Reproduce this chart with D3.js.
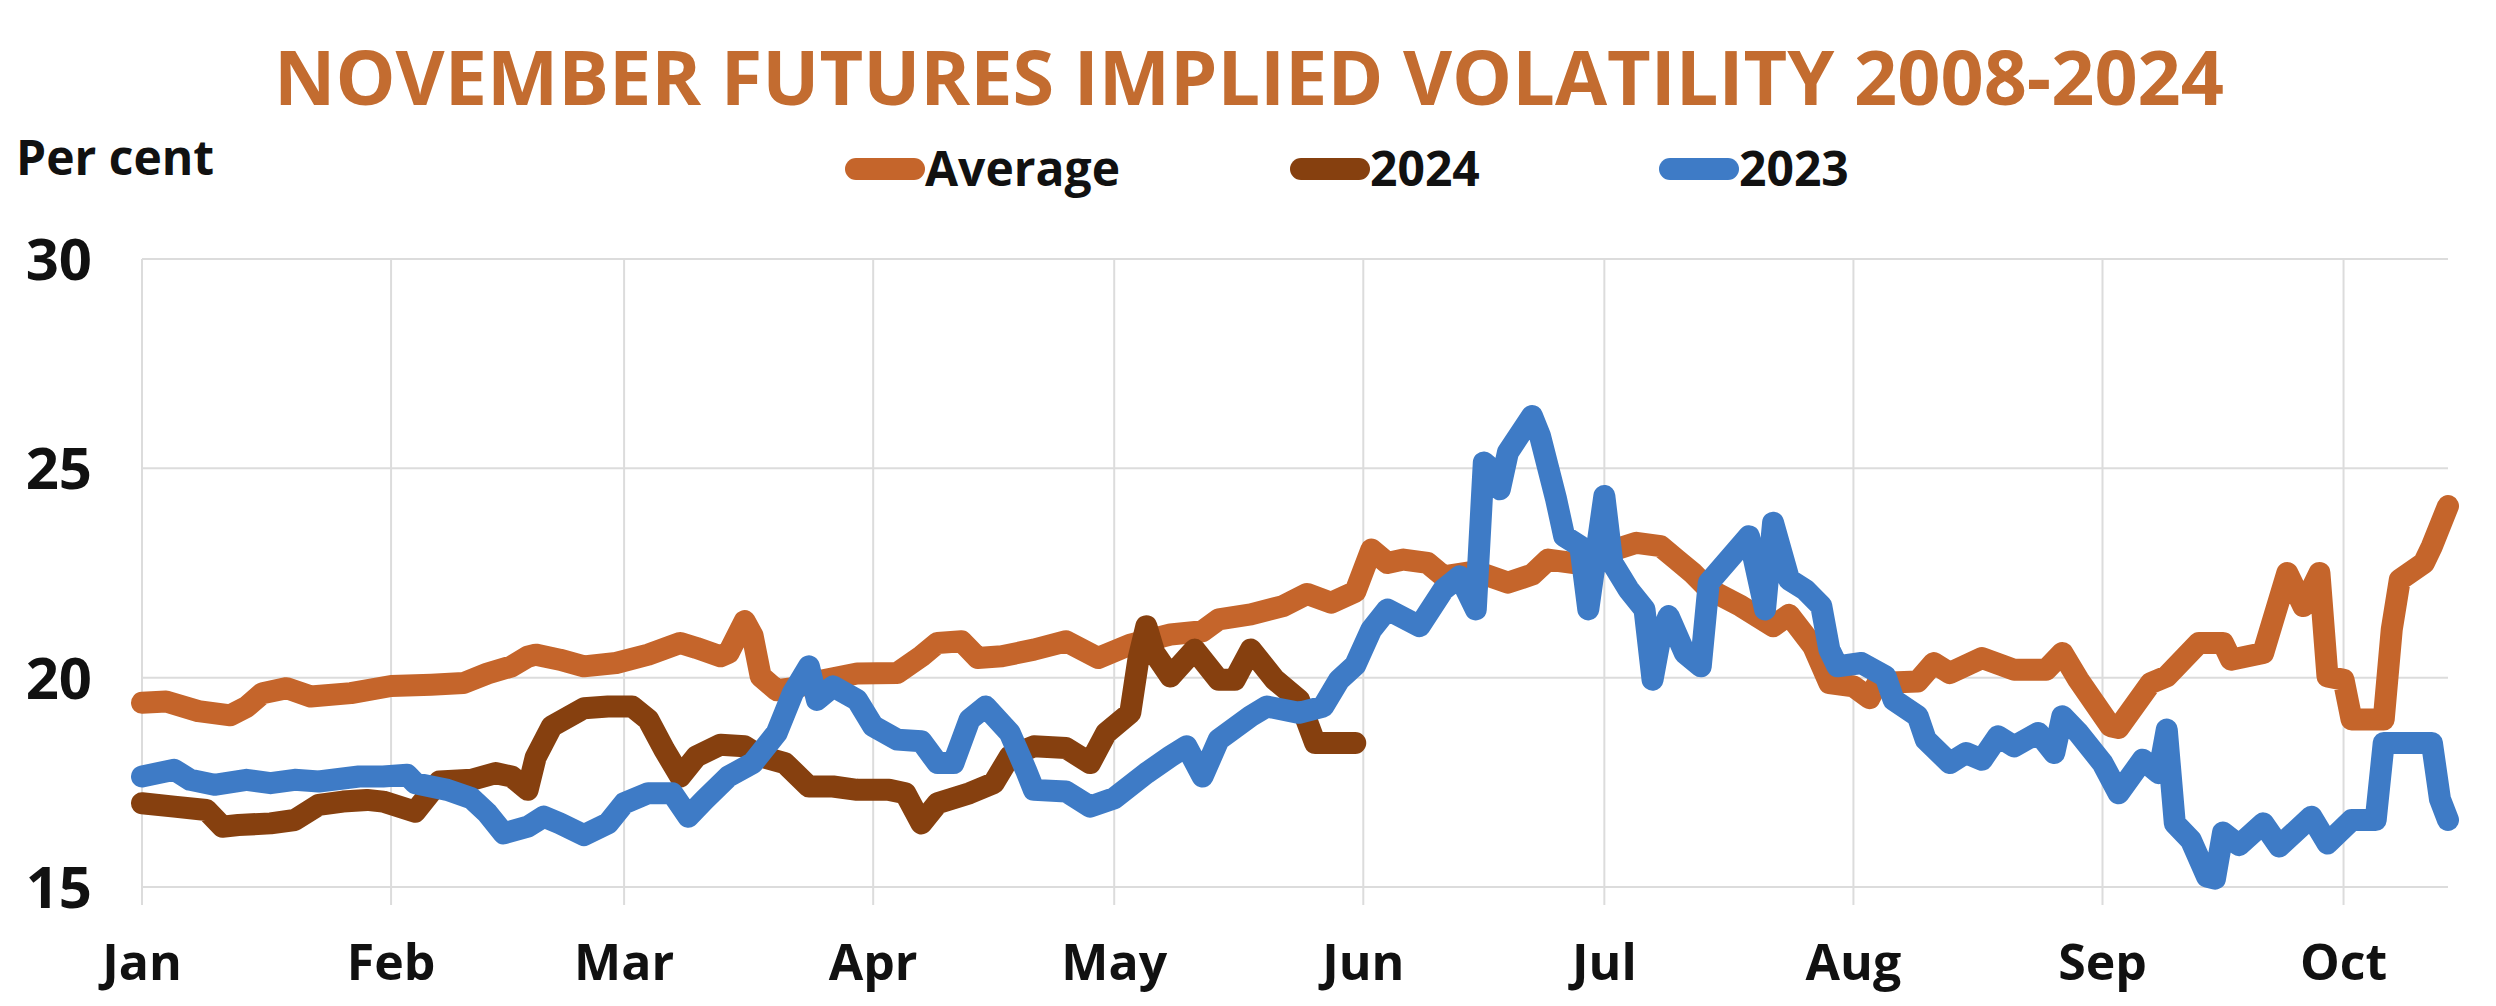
<!DOCTYPE html>
<html lang="en">
<head>
  <meta charset="UTF-8">
  <title>November futures implied volatility</title>
  <style>
    body { margin: 0; background: #fff; }
    text { font-family: "Open Sans", sans-serif; font-weight: 700; }
  </style>
</head>
<body>
  <svg id="svg" width="2496" height="1006"></svg>
  <script src="https://d3js.org/d3.v7.min.js"></script>
  <script>
    // values, [date, per cent]
    const average = [
      ['2024-01-01', 19.4], ['2024-01-04', 19.43], ['2024-01-08', 19.2], ['2024-01-12', 19.1],
      ['2024-01-14', 19.3], ['2024-01-16', 19.63], ['2024-01-19', 19.75], ['2024-01-22', 19.55],
      ['2024-01-27', 19.63], ['2024-02-01', 19.8], ['2024-02-06', 19.83], ['2024-02-10', 19.87],
      ['2024-02-13', 20.1], ['2024-02-16', 20.27], ['2024-02-18', 20.5], ['2024-02-19', 20.55],
      ['2024-02-22', 20.43], ['2024-02-25', 20.27], ['2024-02-29', 20.35], ['2024-03-04', 20.55],
      ['2024-03-08', 20.83], ['2024-03-10', 20.71], ['2024-03-13', 20.51], ['2024-03-14', 20.59],
      ['2024-03-16', 21.35], ['2024-03-17', 21.0], ['2024-03-18', 20.03], ['2024-03-20', 19.7],
      ['2024-03-22', 19.75], ['2024-03-25', 19.91], ['2024-03-30', 20.1], ['2024-04-04', 20.11],
      ['2024-04-07', 20.51], ['2024-04-09', 20.83], ['2024-04-12', 20.87], ['2024-04-14', 20.47],
      ['2024-04-17', 20.51], ['2024-04-21', 20.67], ['2024-04-25', 20.87], ['2024-04-29', 20.47],
      ['2024-05-03', 20.79], ['2024-05-08', 21.03], ['2024-05-12', 21.11], ['2024-05-14', 21.39],
      ['2024-05-18', 21.51], ['2024-05-22', 21.71], ['2024-05-25', 22.0], ['2024-05-28', 21.79],
      ['2024-05-31', 22.05], ['2024-06-02', 23.06], ['2024-06-04', 22.74], ['2024-06-06', 22.82],
      ['2024-06-09', 22.74], ['2024-06-11', 22.42], ['2024-06-15', 22.54], ['2024-06-19', 22.27],
      ['2024-06-22', 22.46], ['2024-06-24', 22.82], ['2024-06-27', 22.74], ['2024-07-01', 22.98],
      ['2024-07-05', 23.22], ['2024-07-08', 23.14], ['2024-07-10', 22.82], ['2024-07-12', 22.5],
      ['2024-07-14', 22.11], ['2024-07-18', 21.71], ['2024-07-22', 21.23], ['2024-07-24', 21.5],
      ['2024-07-27', 20.75], ['2024-07-29', 19.87], ['2024-08-01', 19.79], ['2024-08-03', 19.51],
      ['2024-08-04', 19.87], ['2024-08-09', 19.91], ['2024-08-11', 20.35], ['2024-08-13', 20.11],
      ['2024-08-17', 20.47], ['2024-08-21', 20.19], ['2024-08-25', 20.19], ['2024-08-27', 20.59],
      ['2024-08-29', 19.95], ['2024-09-02', 18.84], ['2024-09-03', 18.8], ['2024-09-07', 19.87],
      ['2024-09-09', 20.03], ['2024-09-13', 20.83], ['2024-09-16', 20.83], ['2024-09-17', 20.43],
      ['2024-09-21', 20.59], ['2024-09-24', 22.5], ['2024-09-26', 21.71], ['2024-09-28', 22.5],
      ['2024-09-29', 20.03], ['2024-10-01', 19.95], ['2024-10-02', 19.0], ['2024-10-06', 19.0],
      ['2024-10-07', 21.15], ['2024-10-08', 22.34], ['2024-10-11', 22.74], ['2024-10-12', 23.14],
      ['2024-10-14', 24.1]
    ]

    const year2024 = [
      ['2024-01-01', 17.0], ['2024-01-05', 16.92], ['2024-01-09', 16.84], ['2024-01-11', 16.44],
      ['2024-01-13', 16.48], ['2024-01-17', 16.52], ['2024-01-20', 16.6], ['2024-01-23', 16.96],
      ['2024-01-26', 17.04], ['2024-01-29', 17.08], ['2024-01-31', 17.04], ['2024-02-04', 16.8],
      ['2024-02-07', 17.52], ['2024-02-11', 17.56], ['2024-02-14', 17.72], ['2024-02-16', 17.64],
      ['2024-02-18', 17.32], ['2024-02-19', 18.1], ['2024-02-21', 18.84], ['2024-02-25', 19.27],
      ['2024-02-28', 19.31], ['2024-03-02', 19.31], ['2024-03-04', 19.0], ['2024-03-06', 18.28],
      ['2024-03-08', 17.64], ['2024-03-10', 18.12], ['2024-03-13', 18.4], ['2024-03-16', 18.36],
      ['2024-03-18', 18.12], ['2024-03-21', 17.96], ['2024-03-24', 17.4], ['2024-03-27', 17.4],
      ['2024-03-30', 17.32], ['2024-04-03', 17.32], ['2024-04-05', 17.24], ['2024-04-07', 16.52],
      ['2024-04-09', 17.0], ['2024-04-13', 17.24], ['2024-04-16', 17.48], ['2024-04-18', 18.12],
      ['2024-04-21', 18.36], ['2024-04-25', 18.32], ['2024-04-28', 17.96], ['2024-04-30', 18.68],
      ['2024-05-03', 19.16], ['2024-05-04', 20.43], ['2024-05-05', 21.23], ['2024-05-06', 20.59],
      ['2024-05-08', 20.03], ['2024-05-11', 20.67], ['2024-05-14', 19.95], ['2024-05-16', 19.95],
      ['2024-05-18', 20.67], ['2024-05-21', 19.95], ['2024-05-24', 19.47], ['2024-05-26', 18.44],
      ['2024-05-31', 18.44]
    ]

    const year2023 = [
      ['2024-01-01', 17.64], ['2024-01-05', 17.8], ['2024-01-07', 17.56], ['2024-01-10', 17.44],
      ['2024-01-14', 17.56], ['2024-01-17', 17.48], ['2024-01-20', 17.56], ['2024-01-23', 17.52],
      ['2024-01-28', 17.64], ['2024-01-31', 17.64], ['2024-02-03', 17.68], ['2024-02-04', 17.48],
      ['2024-02-08', 17.32], ['2024-02-11', 17.12], ['2024-02-13', 16.76], ['2024-02-15', 16.28],
      ['2024-02-18', 16.44], ['2024-02-20', 16.68], ['2024-02-22', 16.52], ['2024-02-25', 16.24],
      ['2024-02-28', 16.52], ['2024-03-01', 17.0], ['2024-03-04', 17.24], ['2024-03-07', 17.24],
      ['2024-03-09', 16.68], ['2024-03-11', 17.08], ['2024-03-14', 17.64], ['2024-03-17', 17.96],
      ['2024-03-20', 18.68], ['2024-03-22', 19.63], ['2024-03-24', 20.27], ['2024-03-25', 19.47],
      ['2024-03-27', 19.79], ['2024-03-30', 19.47], ['2024-04-01', 18.84], ['2024-04-04', 18.52],
      ['2024-04-07', 18.48], ['2024-04-09', 17.96], ['2024-04-11', 17.96], ['2024-04-13', 19.0],
      ['2024-04-15', 19.31], ['2024-04-18', 18.68], ['2024-04-20', 17.8], ['2024-04-21', 17.32],
      ['2024-04-25', 17.28], ['2024-04-28', 16.92], ['2024-05-01', 17.12], ['2024-05-05', 17.72],
      ['2024-05-08', 18.12], ['2024-05-10', 18.36], ['2024-05-12', 17.64], ['2024-05-14', 18.52],
      ['2024-05-18', 19.08], ['2024-05-20', 19.31], ['2024-05-24', 19.16], ['2024-05-27', 19.31],
      ['2024-05-29', 19.95], ['2024-05-31', 20.3], ['2024-06-02', 21.15], ['2024-06-04', 21.63],
      ['2024-06-08', 21.23], ['2024-06-11', 22.11], ['2024-06-13', 22.42], ['2024-06-15', 21.63],
      ['2024-06-16', 25.14], ['2024-06-17', 24.98], ['2024-06-18', 24.5], ['2024-06-19', 25.38],
      ['2024-06-22', 26.25], ['2024-06-23', 25.77], ['2024-06-25', 24.26], ['2024-06-26', 23.38],
      ['2024-06-28', 23.14], ['2024-06-29', 21.63], ['2024-07-01', 24.34], ['2024-07-02', 22.74],
      ['2024-07-04', 22.11], ['2024-07-06', 21.63], ['2024-07-07', 19.95], ['2024-07-08', 20.99],
      ['2024-07-09', 21.47], ['2024-07-11', 20.59], ['2024-07-13', 20.27], ['2024-07-14', 22.27],
      ['2024-07-19', 23.38], ['2024-07-21', 21.63], ['2024-07-22', 23.7], ['2024-07-24', 22.34],
      ['2024-07-26', 22.1], ['2024-07-28', 21.71], ['2024-07-29', 20.67], ['2024-07-30', 20.27],
      ['2024-08-02', 20.35], ['2024-08-05', 20.03], ['2024-08-06', 19.47], ['2024-08-09', 19.08],
      ['2024-08-10', 18.52], ['2024-08-13', 17.96], ['2024-08-15', 18.2], ['2024-08-17', 18.04],
      ['2024-08-19', 18.6], ['2024-08-21', 18.36], ['2024-08-24', 18.68], ['2024-08-26', 18.2],
      ['2024-08-27', 19.08], ['2024-08-29', 18.68], ['2024-09-01', 17.96], ['2024-09-03', 17.24],
      ['2024-09-06', 18.04], ['2024-09-08', 17.72], ['2024-09-09', 18.76], ['2024-09-10', 16.52],
      ['2024-09-12', 16.12], ['2024-09-14', 15.25], ['2024-09-15', 15.2], ['2024-09-16', 16.3],
      ['2024-09-18', 16.0], ['2024-09-21', 16.52], ['2024-09-23', 15.97], ['2024-09-27', 16.68],
      ['2024-09-29', 16.04], ['2024-10-02', 16.6], ['2024-10-05', 16.6], ['2024-10-06', 18.44],
      ['2024-10-08', 18.44], ['2024-10-12', 18.44], ['2024-10-13', 17.1], ['2024-10-14', 16.6]
    ]

    const seriesNames = ['Average', '2024', '2023']
    const seriesColors = ['#C5652B', '#86400F', '#3E7BC6']
    const yTicks = [15, 20, 25, 30]
    const monthLabels = ['Jan', 'Feb', 'Mar', 'Apr', 'May', 'Jun', 'Jul', 'Aug', 'Sep', 'Oct']
    const titleText = 'NOVEMBER FUTURES IMPLIED VOLATILITY 2008-2024'

    const parse = d3.timeParse('%Y-%m-%d')
    const allSeries = [average, year2024, year2023].map(s => s.map(d => ({ date: parse(d[0]), value: d[1] })))

    const plotLeft = 142, plotRight = 2448, plotTop = 259, plotBottom = 887

    const xScale = d3.scaleTime()
      .domain([parse('2024-01-01'), parse('2024-10-14')])
      .range([plotLeft, plotRight])

    const yScale = d3.scaleLinear()
      .domain([15, 30])
      .range([plotBottom, plotTop])

    const svg = d3.select('#svg')

    svg.append('rect').attr('width', 2496).attr('height', 1006).attr('fill', '#fff')

    // grid
    svg.append('g')
      .selectAll('line')
      .data(yTicks)
      .enter()
      .append('line')
      .attr('x1', plotLeft).attr('x2', plotRight)
      .attr('y1', d => yScale(d)).attr('y2', d => yScale(d))
      .attr('stroke', '#dcdcdc').attr('stroke-width', 2)

    const monthStarts = d3.timeMonth.range(parse('2024-01-01'), parse('2024-10-15'))

    svg.append('g')
      .selectAll('line')
      .data(monthStarts)
      .enter()
      .append('line')
      .attr('x1', d => xScale(d)).attr('x2', d => xScale(d))
      .attr('y1', plotTop).attr('y2', plotBottom + 18)
      .attr('stroke', '#dcdcdc').attr('stroke-width', 2)

    // axis labels
    svg.append('g')
      .selectAll('text')
      .data(yTicks)
      .enter()
      .append('text')
      .attr('x', 92)
      .attr('y', d => yScale(d))
      .attr('dy', '0.36em')
      .attr('text-anchor', 'end')
      .attr('font-size', 58)
      .attr('fill', '#111')
      .text(d => d)

    svg.append('g')
      .selectAll('text')
      .data(monthStarts)
      .enter()
      .append('text')
      .attr('x', d => xScale(d))
      .attr('y', 980)
      .attr('text-anchor', 'middle')
      .attr('font-size', 50)
      .attr('fill', '#111')
      .text((d, i) => monthLabels[i])

    // lines
    const line = d3.line()
      .x(d => xScale(d.date))
      .y(d => yScale(d.value))

    svg.append('g')
      .selectAll('path')
      .data(allSeries)
      .enter()
      .append('path')
      .attr('d', line)
      .attr('fill', 'none')
      .attr('stroke', (d, i) => seriesColors[i])
      .attr('stroke-width', 22)
      .attr('stroke-linejoin', 'round')
      .attr('stroke-linecap', 'round')

    // title, unit, legend
    svg.append('text')
      .attr('x', 1249).attr('y', 105)
      .attr('text-anchor', 'middle')
      .attr('font-size', 76)
      .attr('fill', '#C36C30')
      .attr('textLength', 1950)
      .attr('lengthAdjust', 'spacingAndGlyphs')
      .text(titleText)

    svg.append('text')
      .attr('x', 16).attr('y', 175)
      .attr('font-size', 48)
      .attr('fill', '#111')
      .text('Per cent')

    const legendX = [845, 1290, 1659]
    const legend = svg.append('g')
      .selectAll('g')
      .data(seriesNames)
      .enter()
      .append('g')
      .attr('transform', (d, i) => `translate(${legendX[i]},169)`)

    legend.append('line')
      .attr('x1', 11).attr('x2', 69)
      .attr('stroke', (d, i) => seriesColors[i])
      .attr('stroke-width', 22)
      .attr('stroke-linecap', 'round')

    legend.append('text')
      .attr('x', 80).attr('y', 17)
      .attr('font-size', 48)
      .attr('fill', '#111')
      .text(d => d)
  </script>
</body>
</html>
